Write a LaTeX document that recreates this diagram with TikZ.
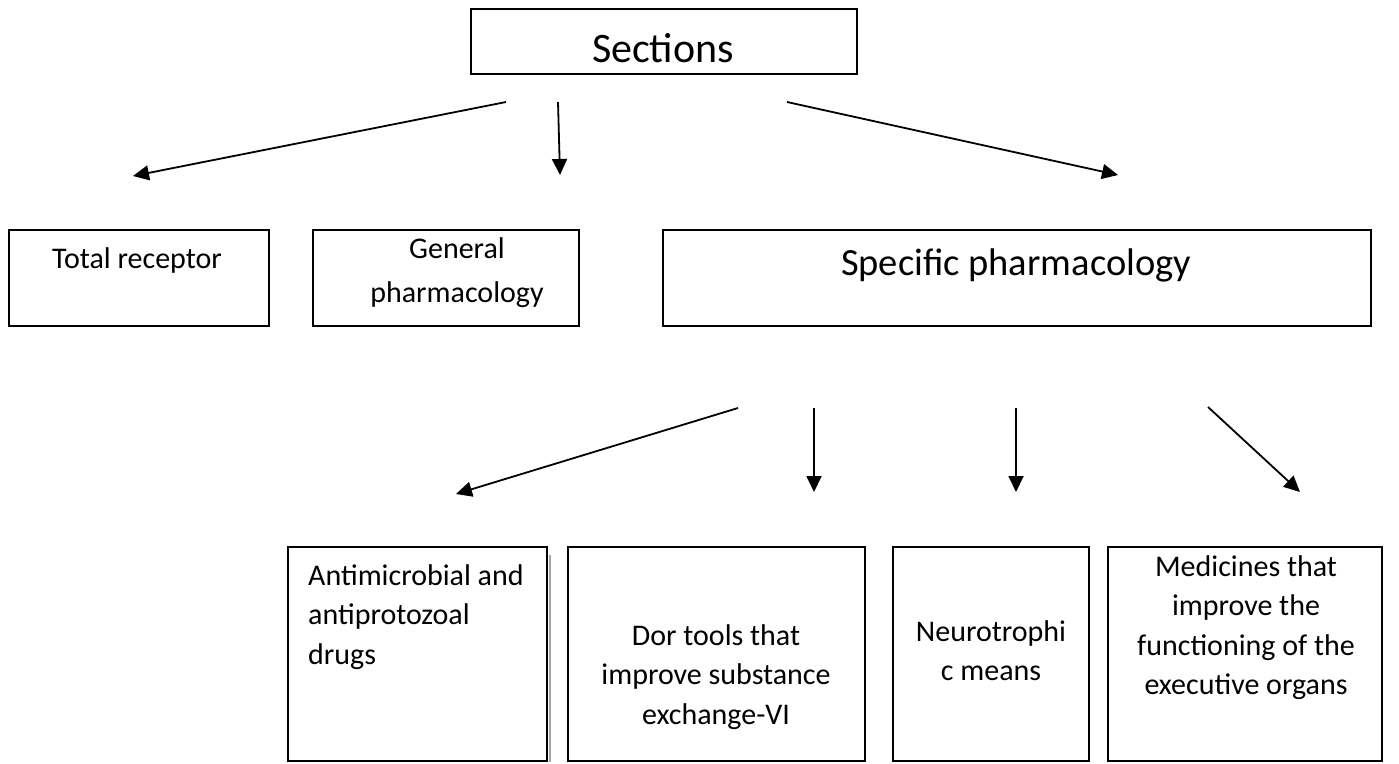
\documentclass[tikz,border=0pt]{standalone}
\usepackage{fontspec}
\setmainfont{Carlito}
\usetikzlibrary{arrows.meta}
\tikzset{
  box/.style={draw, line width=1.8pt, inner sep=0pt},
  lbl/.style={inner sep=0pt, font=\fontsize{30}{39.5}\selectfont},
  lblc/.style={lbl, align=flush center, text width=#1},
  conn/.style={line width=1.8pt, -{Triangle[length=16pt, width=15pt]}}
}
\begin{document}
\begin{tikzpicture}[x=1pt, y=-1pt]
\useasboundingbox (0,0) rectangle (1399,763);

% top level
\node[box, minimum width=386pt, minimum height=65pt] (sec) at (664,41.5) {};
\node[inner sep=0pt, anchor=base, font=\fontsize{42}{50}\selectfont] (secT) at (663,62) {Sections};

% second level
\node[box, minimum width=260pt, minimum height=96pt] (tot) at (139,278) {};
\node[box, minimum width=266pt, minimum height=96pt] (gen) at (446,278) {};
\node[box, minimum width=708pt, minimum height=96pt] (spec) at (1017,278) {};

\node[lbl, anchor=base] (totT) at (137,268) {Total receptor};
\node[lblc=260pt, anchor=base, font=\fontsize{30}{44}\selectfont] (genT) at (457,258) {General\\pharmacology};
\node[inner sep=0pt, anchor=base, font=\fontsize{38.5}{44}\selectfont] (specT) at (1016,275) {Specific pharmacology};

% third level
\node[box, minimum width=259pt, minimum height=214pt] (anti) at (417.5,654) {};
\node[box, minimum width=297pt, minimum height=214pt] (dor) at (716.5,654) {};
\node[box, minimum width=196pt, minimum height=214pt] (neu) at (991,654) {};
\node[box, minimum width=274pt, minimum height=214pt] (med) at (1245,654) {};
\draw[gray!70, line width=1.2pt] ([xshift=2pt,yshift=-9pt]anti.north east) -- ([xshift=2pt]anti.south east);

\node[lbl, align=flush left, text width=240pt, anchor=base west] (antiT) at (308,585) {Antimicrobial and\\antiprotozoal\\drugs};
\node[lblc=290pt, anchor=base] (dorT) at (716,645) {Dor tools that\\improve substance\\exchange-VI};
\node[lblc=190pt, anchor=base] (neuT) at (991,641) {Neurotrophi\\c means};
\node[lblc=270pt, anchor=base] (medT) at (1246,576) {Medicines that\\improve the\\functioning of the\\executive organs};

% arrow ends
\coordinate (s1) at (506,102);  \coordinate (e1) at (133,176);
\coordinate (s2) at (558,102);  \coordinate (e2) at (560,175);
\coordinate (s3) at (787,102);  \coordinate (e3) at (1118,175);
\coordinate (s4) at (738,408);  \coordinate (e4) at (456,494);
\coordinate (s5) at (814,408);  \coordinate (e5) at (814,492);
\coordinate (s6) at (1016,408); \coordinate (e6) at (1016,492);
\coordinate (s7) at (1208,407); \coordinate (e7) at (1300,492);

\draw[conn] (s1) -- (e1);
\draw[conn] (s2) -- (e2);
\draw[conn] (s3) -- (e3);
\draw[conn] (s4) -- (e4);
\draw[conn] (s5) -- (e5);
\draw[conn] (s6) -- (e6);
\draw[conn] (s7) -- (e7);
\end{tikzpicture}
\end{document}
